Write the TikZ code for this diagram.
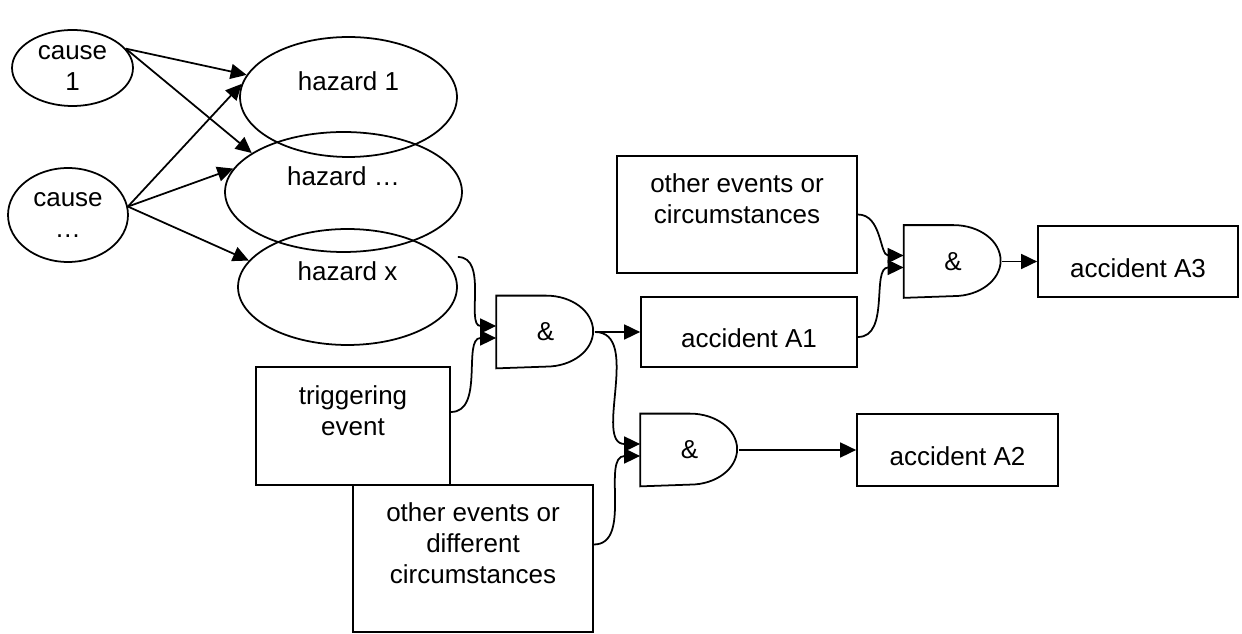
\documentclass[tikz,border=0pt]{standalone}
\usepackage{fontspec}
\setmainfont{Liberation Sans}
\usetikzlibrary{shapes.geometric,arrows.meta}

\begin{document}
\begin{tikzpicture}[x=0.02cm,y=0.02cm,line width=1pt,
  font=\fontsize{14.8}{17.8}\selectfont,
  oval/.style={draw,ellipse,inner sep=0pt,align=center},
  box/.style={draw,rectangle,inner sep=0pt,align=center},
  gate/.style={inner sep=0pt,minimum width=1.94cm,minimum height=1.42cm},
  link/.style={-{Triangle[length=0.32cm,width=0.3cm]}}]
\useasboundingbox (0,0) rectangle (1242,-634);

% causes and hazards
\node[oval,minimum width=2.42cm,minimum height=1.52cm] (c1) at (72.5,-68) {cause\\1};
\node[oval,minimum width=2.4cm,minimum height=1.88cm] (c2) at (68,-215) {cause\\…};
\node[oval,minimum width=4.34cm,minimum height=2.4cm] (h1) at (348.5,-97) {hazard 1\\~};
\node[oval,minimum width=4.74cm,minimum height=2.4cm] (h2) at (343.5,-192) {hazard …\\~};
\node[oval,minimum width=4.38cm,minimum height=2.32cm] (h3) at (347.5,-287) {hazard x\\~};

% events and accidents
\node[box,minimum width=3.88cm,minimum height=2.36cm] (t1) at (353,-426) {triggering\\event\\~};
\node[box,minimum width=4.8cm,minimum height=2.94cm] (o2) at (473,-558.5) {other events or\\different\\circumstances\\~};
\node[box,minimum width=4.8cm,minimum height=2.34cm] (o1) at (737,-214.5) {other events or\\circumstances\\~};
\node[box,minimum width=4.32cm,minimum height=1.4cm] (a1) at (749,-332) {~\\accident A1};
\node[box,minimum width=4.02cm,minimum height=1.44cm] (a2) at (957.5,-450) {~\\accident A2};
\node[box,minimum width=4cm,minimum height=1.42cm] (a3) at (1138,-261.5) {~\\accident A3};

% and gates
\node[gate] (g1) at (545.5,-332) {\&};
\node[gate] (g2) at (689.5,-450) {\&};
\node[gate] (g3) at (953,-261.5) {\&};
\foreach \g in {g1,g2,g3}
  \draw (\g.north west) -- ([xshift=1cm]\g.north west)
    arc[start angle=90,end angle=-90,x radius=0.94cm,y radius=0.71cm]
    -- (\g.south west) -- cycle;

% causes to hazards
\draw[link] (c1.20) -- (h1);
\draw[link] (c1.20) -- (h2.157);
\draw[link] (c2.8) -- (h1.173);
\draw[link] (c2.8) -- (h2.168);
\draw[link] (c2.8) -- (h3.165);

% into the gates
\draw[link] ([yshift=0.6cm]h3.east) to[out=0,in=180] ([yshift=0.12cm]g1.west);
\draw[link] ([yshift=0.28cm]t1.east) to[out=0,in=180] ([yshift=-0.12cm]g1.west);
\draw[link] (g1.east) -- (a1.west);
\draw[link] (g1.east) to[out=0,in=180] ([yshift=0.12cm]g2.west);
\draw[link] ([yshift=0.28cm]o2.east) to[out=0,in=180] ([yshift=-0.12cm]g2.west);
\draw[link] (g2.east) -- (a2.west);
\draw[link] (o1.east) to[out=0,in=180] ([yshift=0.12cm]g3.west);
\draw[link] ([yshift=-0.1cm]a1.east) to[out=0,in=180] ([yshift=-0.12cm]g3.west);
\draw[link] (g3.east) -- (a3.west);
\end{tikzpicture}
\end{document}
